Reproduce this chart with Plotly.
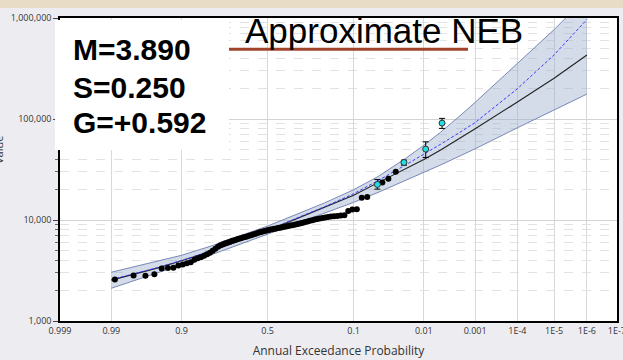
import plotly.graph_objects as go
from statistics import NormalDist

# ---------------- data ----------------
tick_probs = [0.999, 0.99, 0.9, 0.5, 0.1, 0.01, 0.001, 1e-4, 1e-5, 1e-6, 1e-7]
tick_text = ["0.999", "0.99", "0.9", "0.5", "0.1", "0.01", "0.001", "1E-4", "1E-5", "1E-6", "1E-7"]

curve_probs = [0.99, 0.95, 0.9, 0.8, 0.5, 0.2, 0.1, 0.05, 0.02, 0.01, 0.005, 0.002, 0.001,
               1e-4, 1e-5, 1e-6]
computed_curve = [2540, 3340, 3950, 4900, 7850, 13180, 17580, 23440, 31990, 39810, 49430,
                  65310, 80170, 147200, 252900, 429500]
expected_curve = [2570, 3370, 3980, 4950, 7940, 13490, 18200, 24550, 35080, 44670, 56230,
                  75000, 92260, 199500, 431500, 966100]
upper_limit = [3040, 3890, 4470, 5520, 8710, 14690, 19950, 26920, 40740, 54950, 74130,
               109600, 146200, 354800, 767400, 1622000]
lower_limit = [2110, 2980, 3560, 4520, 7240, 11640, 14960, 18750, 24550, 29510, 35080,
               43550, 50700, 81850, 123300, 176600]

obs_probs = [0.9885, 0.9770, 0.9655, 0.9540, 0.9425, 0.9310, 0.9195, 0.9080, 0.8966, 0.8851,
             0.8736, 0.8621, 0.8506, 0.8391, 0.8276, 0.8161, 0.8046, 0.7931, 0.7816, 0.7701,
             0.7586, 0.7471, 0.7356, 0.7241, 0.7126, 0.7011, 0.6897, 0.6782, 0.6667, 0.6552,
             0.6437, 0.6322, 0.6207, 0.6092, 0.5977, 0.5862, 0.5747, 0.5632, 0.5517, 0.5402,
             0.5287, 0.5172, 0.5057, 0.4943, 0.4828, 0.4713, 0.4598, 0.4483, 0.4368, 0.4253,
             0.4138, 0.4023, 0.3908, 0.3793, 0.3678, 0.3563, 0.3448, 0.3333, 0.3218, 0.3103,
             0.2989, 0.2874, 0.2759, 0.2644, 0.2529, 0.2414, 0.2299, 0.2184, 0.2069, 0.1954,
             0.1839, 0.1724, 0.1609, 0.1494, 0.1379, 0.1264, 0.1149, 0.1034, 0.0920, 0.0805,
             0.0690, 0.0438, 0.0361, 0.0282]
obs_values = [2570, 2820, 2810, 2900, 3310, 3350, 3360, 3540, 3620, 3730,
              3820, 4040, 4180, 4280, 4430, 4580, 4740, 4960, 5200, 5440,
              5630, 5760, 5890, 5980, 6090, 6240, 6310, 6410, 6530, 6600,
              6710, 6780, 6860, 6990, 7070, 7180, 7280, 7400, 7520, 7600,
              7690, 7780, 7870, 7960, 8050, 8120, 8200, 8250, 8310, 8390,
              8480, 8560, 8640, 8720, 8800, 8880, 8980, 9080, 9190, 9290,
              9400, 9550, 9680, 9820, 9950, 10120, 10250, 10370, 10470, 10590,
              10710, 10810, 10910, 10980, 11080, 11160, 12310, 12710, 12800, 16560,
              16940, 23530, 25660, 30110]

hist_probs = [0.0511, 0.0212, 0.0093, 0.0047]
hist_values = [22480, 37140, 50310, 91080]
hist_high = [25200, 39150, 59430, 101400]
hist_low = [20200, 34920, 41630, 80700]

stats_lines = ["M=3.890", "S=0.250", "G=+0.592"]
title_text = "Approximate NEB"

# ---------------- probability (normal) scale ----------------
nd = NormalDist()


def zscale(ps):
    return [nd.inv_cdf(1.0 - p) for p in ps]


W, H = 623, 360
ML, MR, MT, MB = 60, 6, 18, 39
PW, PH = W - ML - MR, H - MT - MB


def px(x):
    return (x - ML) / PW


def py(y):
    return (H - MB - y) / PH


fig = go.Figure()

band_line = dict(color="#7a88b6", width=1)
fig.add_trace(go.Scatter(x=zscale(curve_probs), y=upper_limit, mode="lines",
                         line=band_line, hoverinfo="skip"))
fig.add_trace(go.Scatter(x=zscale(curve_probs), y=lower_limit, mode="lines",
                         line=band_line, fill="tonexty",
                         fillcolor="rgba(150,172,200,0.42)", hoverinfo="skip"))
fig.add_trace(go.Scatter(x=zscale(curve_probs), y=computed_curve, mode="lines",
                         line=dict(color="#222222", width=1.1)))
fig.add_trace(go.Scatter(x=zscale(curve_probs), y=expected_curve, mode="lines",
                         line=dict(color="#3a3aff", width=1, dash="3px,2px")))
fig.add_trace(go.Scatter(x=zscale(obs_probs), y=obs_values, mode="markers",
                         marker=dict(color="black", size=6, line=dict(width=0))))
fig.add_trace(go.Scatter(
    x=zscale(hist_probs), y=hist_values, mode="markers",
    marker=dict(color="#22e0e0", size=6, line=dict(color="#333333", width=1)),
    error_y=dict(type="data", symmetric=False,
                 array=[h - v for h, v in zip(hist_high, hist_values)],
                 arrayminus=[v - l for v, l in zip(hist_values, hist_low)],
                 color="black", thickness=1, width=3)))

zt = zscale(tick_probs)
fig.update_layout(
    width=W, height=H,
    margin=dict(l=ML, r=MR, t=MT, b=MB),
    paper_bgcolor="#ededf1", plot_bgcolor="white",
    showlegend=False,
    font=dict(family="Open Sans", color="#333333", size=9),
    xaxis=dict(range=[zt[0], zt[-1] + 0.002], tickmode="array", tickvals=zt, ticktext=tick_text,
               showgrid=True, gridcolor="#d9d9d9", gridwidth=1, zeroline=False,
               showline=True, linecolor="black", linewidth=1.5, mirror=True,
               ticks="", tickfont=dict(size=9, color="#333333"), automargin=False,
               ticklabeloverflow="allow",
               title=dict(text="Annual Exceedance Probability", font=dict(size=12, color="#333333"),
                          standoff=11)),
    yaxis=dict(type="log", range=[3, 6], dtick=1, tickformat=",.0f",
               showgrid=True, gridcolor="#d3d3d3", gridwidth=1, zeroline=False,
               showline=True, linecolor="black", linewidth=1.5, mirror=True,
               ticks="outside", ticklen=5, tickcolor="#444444",
               tickfont=dict(size=9, color="#333333"), automargin=False,
               ticklabeloverflow="allow",
               minor=dict(dtick="D1", ticks="outside", ticklen=3, tickcolor="#666666",
                          showgrid=True, gridcolor="#e2e2e2", griddash="dash", gridwidth=1)),
)

shapes = [
    dict(type="rect", xref="paper", yref="paper", x0=px(0), x1=px(W), y0=py(8), y1=py(0),
         fillcolor="#e8dcc7", line=dict(width=0), layer="above"),
    dict(type="rect", xref="paper", yref="paper", x0=px(55), x1=px(229), y0=py(150), y1=py(20),
         fillcolor="white", line=dict(width=0), layer="above"),
    dict(type="line", xref="paper", yref="paper", x0=px(229), x1=px(468), y0=py(49.3), y1=py(49.3),
         line=dict(color="#a0452c", width=3), layer="above"),
]
fig.update_layout(shapes=shapes)

ann = []
for txt, yc in zip(stats_lines, [49, 87, 123]):
    ann.append(dict(text=txt, xref="paper", yref="paper", x=px(71), y=py(yc), xanchor="left",
                    yanchor="middle", showarrow=False,
                    font=dict(family="Liberation Sans, Arial", size=30, color="black", weight="bold")))
ann.append(dict(text=title_text, xref="paper", yref="paper", x=px(383.5), y=py(30),
                xanchor="center", yanchor="middle", showarrow=False,
                font=dict(family="Liberation Sans, Arial", size=35, color="black")))
ann.append(dict(text="Value", xref="paper", yref="paper", x=px(-2), y=py(150), textangle=-90,
                xanchor="center", yanchor="middle", showarrow=False,
                font=dict(family="Open Sans", size=11, color="#333333")))
fig.update_layout(annotations=ann)

fig.write_html("out.html")
